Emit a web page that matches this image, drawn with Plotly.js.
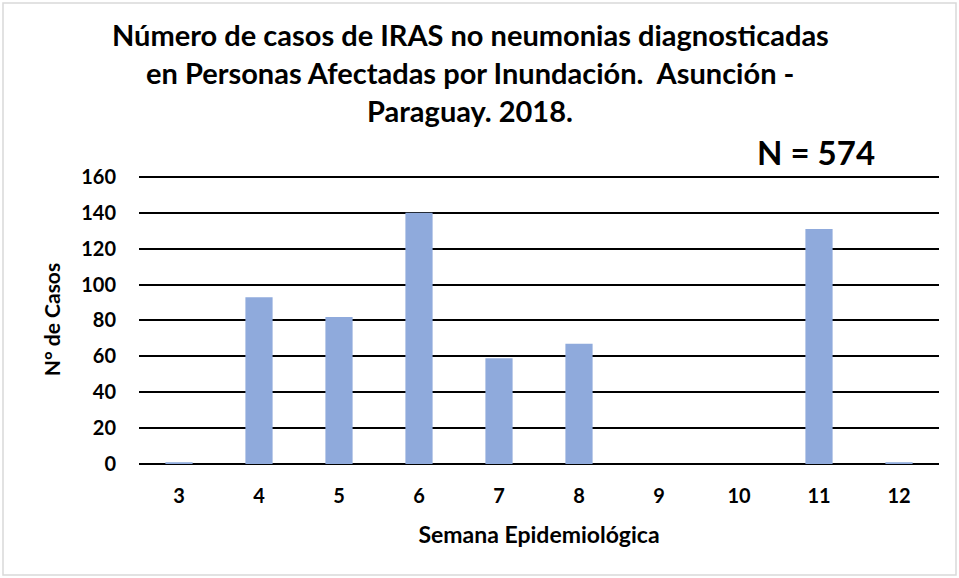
<!DOCTYPE html>
<html><head><meta charset="utf-8">
<script src="https://cdn.plot.ly/plotly-3.0.1.min.js"></script>
<style>html,body{margin:0;padding:0;background:#fff}#chart{width:959px;height:578px}</style>
</head><body><div id="chart"></div>
<script>
const semanas = ['3','4','5','6','7','8','9','10','11','12'];
const casos = [1, 93, 82, 140, 59, 67, 0, 0, 131, 1];
const tituloLineas = ['Número de casos de IRAS no neumonias diagnosticadas', 'en Personas Afectadas por Inundación.  Asunción -', 'Paraguay. 2018.'];
const totalTexto = 'N = 574';
const yTicks = [0, 20, 40, 60, 80, 100, 120, 140, 160];

const FONT = 'Lato, "Open Sans", sans-serif';
const L = 139, R = 20, T = 175, B = 114;
const W = 959, H = 578;
const pw = W - L - R, ph = H - T - B;
const px = x => (x - L) / pw;
const py = y => (H - B - y) / ph;

const titleY = [34, 73, 111];
const annotations = tituloLineas.map((t, i) => ({
  text: '<b>' + t + '</b>', xref: 'paper', yref: 'paper', x: px(470), y: py(titleY[i]),
  xanchor: 'center', yanchor: 'middle', showarrow: false,
  font: {family: FONT, size: 29, color: '#000'}
}));
annotations.push({
  text: '<b>' + totalTexto + '</b>', xref: 'paper', yref: 'paper', x: px(816), y: py(152),
  xanchor: 'center', yanchor: 'middle', showarrow: false,
  font: {family: FONT, size: 33, color: '#000'}
});

const data = [{
  type: 'bar', x: semanas, y: casos,
  marker: {color: '#8FAADC', line: {width: 0}},
  hoverinfo: 'x+y'
}];

const layout = {
  width: W, height: H,
  margin: {l: L, r: R, t: T, b: B, pad: 0},
  paper_bgcolor: '#fff', plot_bgcolor: '#fff',
  showlegend: false,
  bargap: 0.66,
  font: {family: FONT, color: '#000'},
  xaxis: {
    type: 'category', showgrid: false, zeroline: false, showline: false, ticks: '',
    tickfont: {family: FONT, size: 20, color: '#000', weight: 'bold'},
    ticklabelstandoff: 18,
    title: {text: '<b>Semana Epidemiológica</b>', font: {family: FONT, size: 23, color: '#000'}, standoff: 20}
  },
  yaxis: {
    range: [0, 161.1], tickvals: yTicks, ticks: '',
    showgrid: true, gridcolor: '#000', gridwidth: 2,
    zeroline: true, zerolinecolor: '#000', zerolinewidth: 2, showline: false,
    tickfont: {family: FONT, size: 20, color: '#000', weight: 'bold'},
    ticklabelstandoff: 22,
    title: {text: '<b>N° de Casos</b>', font: {family: FONT, size: 21, color: '#000'}, standoff: 14}
  },
  annotations: annotations,
  shapes: [{
    type: 'rect', xref: 'paper', yref: 'paper', layer: 'below',
    x0: px(3), x1: px(956), y0: py(575), y1: py(3),
    line: {color: '#d9d9d9', width: 1.5}, fillcolor: 'rgba(0,0,0,0)'
  }]
};

Plotly.newPlot('chart', data, layout, {displayModeBar: false, staticPlot: true});
</script></body></html>
